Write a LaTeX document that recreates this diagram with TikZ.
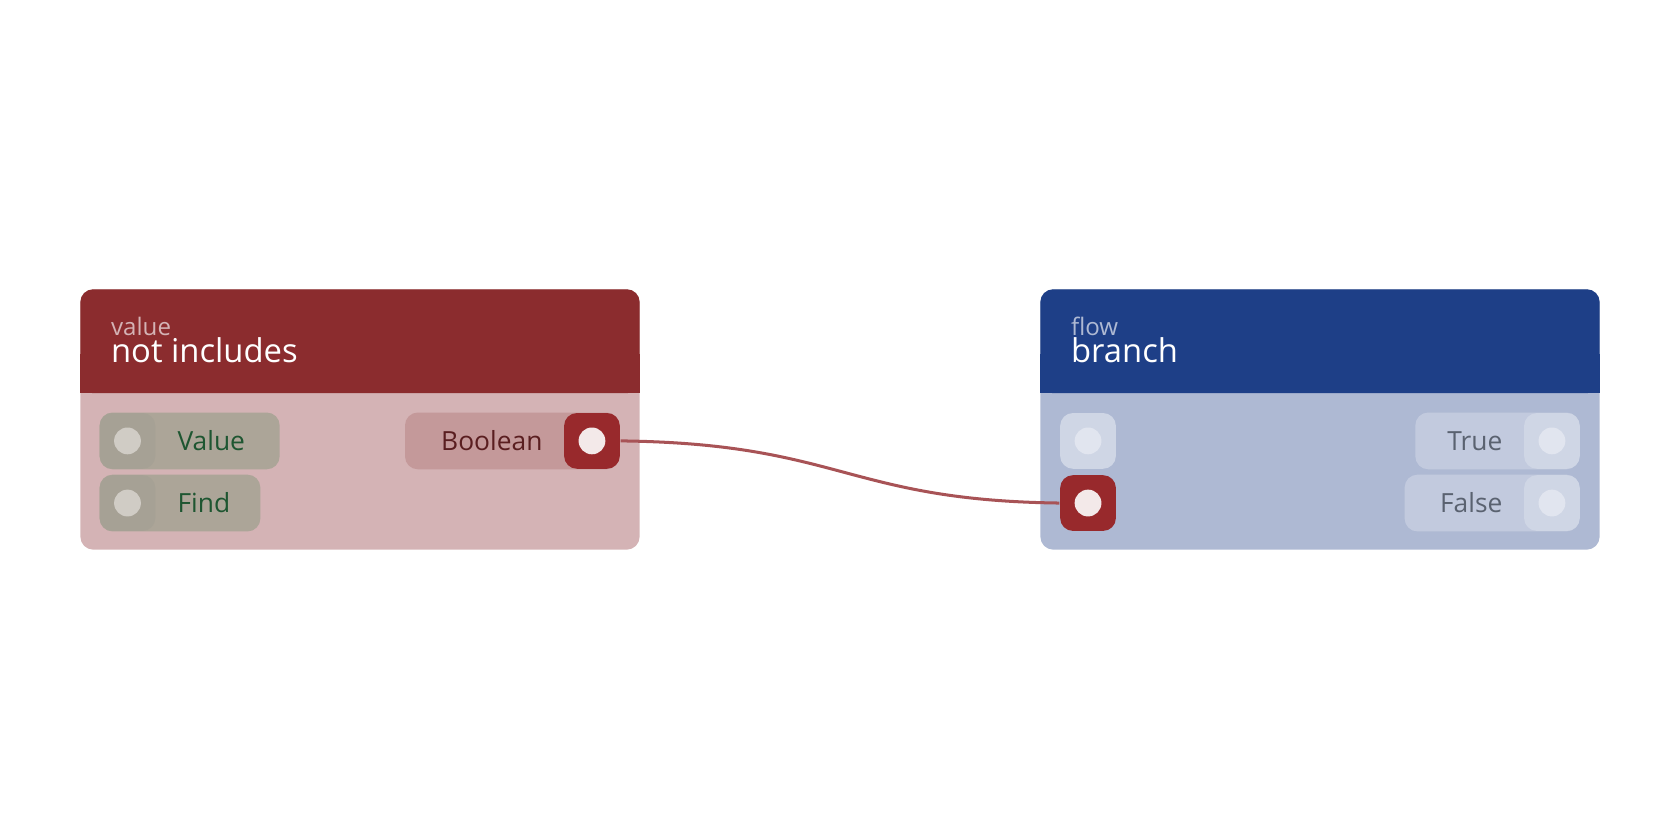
\documentclass[tikz,border=0pt]{standalone}
\usepackage{fontspec}
\setmainfont{Open Sans}
\usetikzlibrary{positioning}
\definecolor{redhead}{HTML}{8B2C2E}
\definecolor{redbody}{HTML}{D4B3B5}
\definecolor{bluehead}{HTML}{1E3F87}
\definecolor{bluebody}{HTML}{AEB9D3}
\definecolor{greypill}{HTML}{ACA598}
\definecolor{greyknob}{HTML}{A6A195}
\definecolor{greydot}{HTML}{D0CCC5}
\definecolor{redpill}{HTML}{C4999A}
\definecolor{redknob}{HTML}{98292C}
\definecolor{bluepill}{HTML}{C2CADE}
\definecolor{blueknob}{HTML}{CFD6E5}
\definecolor{bluedot}{HTML}{E1E5EF}
\definecolor{wire}{HTML}{A85356}
\tikzset{
  pill/.style={rounded corners=1.2mm, inner sep=0pt, minimum height=0.53cm},
  knob/.style={rounded corners=1.2mm, inner sep=0pt, minimum size=0.52cm},
  dot/.style={circle, inner sep=0pt, minimum size=0.25cm},
  lbl/.style={font=\fontsize{7}{8}\selectfont, inner sep=0pt}
}
\begin{document}
\begin{tikzpicture}[x=0.01cm,y=-0.01cm]
\useasboundingbox (0,0) rectangle (1568,784);
% left node
\fill[redbody, rounded corners=1.2mm] (75,270) rectangle (597,513);
\fill[redhead, rounded corners=1.2mm] (75,270) rectangle (597,367);
\fill[redhead] (75,330) rectangle (597,367);
\node[lbl, anchor=base west, text=redbody, font=\fontsize{6.4}{7}\selectfont] (cat1) at (103,313) {value};
\node[lbl, anchor=base west, text=white, font=\fontsize{8.7}{10}\selectfont] (title1) at (103,338) {not includes};
% value input
\fill[greypill, rounded corners=1.2mm] (93,385) rectangle (261,438);
\node[knob, fill=greyknob] (kvalue) at (119,411.5) {};
\node[dot, fill=greydot] at (kvalue) {};
\node[lbl, anchor=west, text={rgb,255:red,30;green,86;blue,49}] (tvalue) at (165,411.5) {Value};
% find input
\fill[greypill, rounded corners=1.2mm] (93,443) rectangle (243,496);
\node[knob, fill=greyknob] (kfind) at (119,469.5) {};
\node[dot, fill=greydot] at (kfind) {};
\node[lbl, anchor=west, text={rgb,255:red,30;green,86;blue,49}] (tfind) at (165,469.5) {Find};
% boolean output
\fill[redpill, rounded corners=1.2mm] (378,385) rectangle (578,438);
\node[knob, fill=redknob] (kbool) at (552.5,411.5) {};
\node[dot, fill={rgb,255:red,243;green,233;blue,233}] (dbool) at (kbool) {};
\node[lbl, anchor=east, text={rgb,255:red,90;green,30;blue,32}] (tbool) at (507,411.5) {Boolean};
% right node
\fill[bluebody, rounded corners=1.2mm] (971,270) rectangle (1493,513);
\fill[bluehead, rounded corners=1.2mm] (971,270) rectangle (1493,367);
\fill[bluehead] (971,330) rectangle (1493,367);
\node[lbl, anchor=base west, text=bluebody, font=\fontsize{6.4}{7}\selectfont] (cat2) at (999,313) {flow};
\node[lbl, anchor=base west, text=white, font=\fontsize{8.7}{10}\selectfont] (title2) at (999,338) {branch};
% inputs
\node[knob, fill=blueknob] (kin1) at (1015.5,411.5) {};
\node[dot, fill=bluedot] at (kin1) {};
\node[knob, fill=redknob] (kin2) at (1015.5,469.5) {};
\node[dot, fill={rgb,255:red,243;green,233;blue,233}] (din2) at (kin2) {};
% outputs
\fill[bluepill, rounded corners=1.2mm] (1321,385) rectangle (1474,438);
\node[knob, fill=blueknob] (ktrue) at (1448.5,411.5) {};
\node[dot, fill=bluedot] at (ktrue) {};
\node[lbl, anchor=east, text={rgb,255:red,90;green,98;blue,112}] (ttrue) at (1403,411.5) {True};
\fill[bluepill, rounded corners=1.2mm] (1311,443) rectangle (1474,496);
\node[knob, fill=blueknob] (kfalse) at (1448.5,469.5) {};
\node[dot, fill=bluedot] at (kfalse) {};
\node[lbl, anchor=east, text={rgb,255:red,90;green,98;blue,112}] (tfalse) at (1403,469.5) {False};
% wire
\draw[wire, line width=0.8pt] (kbool.east) .. controls (785,414) and (790,467) .. (kin2.west);
\end{tikzpicture}
\end{document}
